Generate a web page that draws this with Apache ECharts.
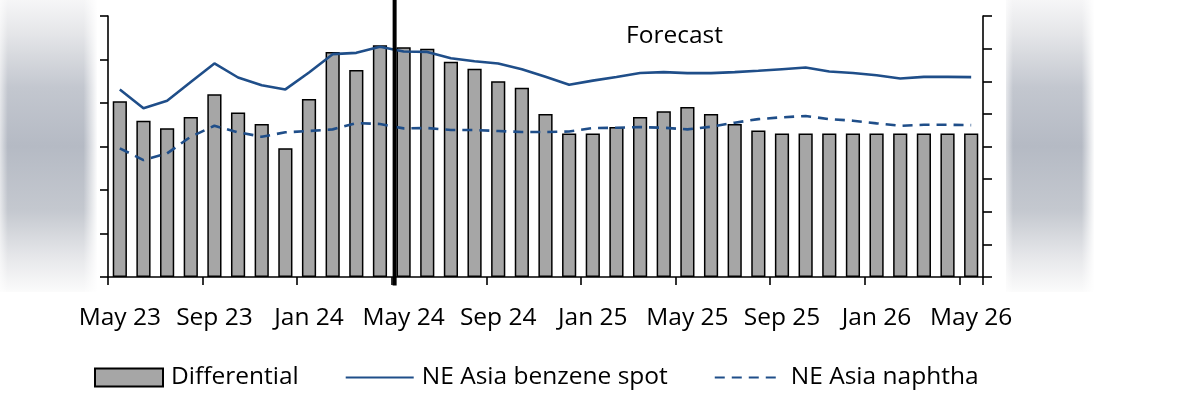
<!DOCTYPE html>
<html>
<head>
<meta charset="utf-8">
<script src="https://cdn.jsdelivr.net/npm/echarts@6/dist/echarts.min.js"></script>
<style>
  html, body { margin: 0; padding: 0; background: #ffffff; }
  #chart { width: 1178px; height: 404px; }
</style>
</head>
<body>
<div id="chart"></div>
<script>
// Monthly categories, May 2023 through May 2026
const categories = [
  'May 23','Jun 23','Jul 23','Aug 23','Sep 23','Oct 23','Nov 23','Dec 23',
  'Jan 24','Feb 24','Mar 24','Apr 24','May 24','Jun 24','Jul 24','Aug 24',
  'Sep 24','Oct 24','Nov 24','Dec 24','Jan 25','Feb 25','Mar 25','Apr 25',
  'May 25','Jun 25','Jul 25','Aug 25','Sep 25','Oct 25','Nov 25','Dec 25',
  'Jan 26','Feb 26','Mar 26','Apr 26','May 26'
];

// Benzene minus naphtha differential (left axis)
const differential = [
  404, 359, 342, 368, 420, 378, 352, 296,
  409, 517, 476, 533, 528, 525, 495, 479,
  450, 435, 375, 330, 330, 345, 368, 381,
  391, 375, 352, 337, 330, 330, 330, 330,
  330, 330, 330, 330, 330
];

// NE Asia benzene spot (right axis)
const benzeneSpot = [
  1150, 1035, 1080, 1196, 1309, 1223, 1176, 1150,
  1254, 1366, 1374, 1412, 1382, 1380, 1341, 1323,
  1309, 1274, 1227, 1178, 1204, 1226, 1251, 1256,
  1250, 1250, 1256, 1264, 1274, 1284, 1260, 1251,
  1237, 1217, 1227, 1227, 1225
];

// NE Asia naphtha (right axis)
const naphtha = [
  789, 717, 758, 860, 927, 887, 860, 887,
  895, 905, 944, 938, 911, 913, 901, 901,
  895, 889, 889, 892, 913, 915, 919, 915,
  905, 921, 946, 968, 979, 987, 968, 958,
  942, 927, 933, 933, 931
];

const forecastStart = 'May 24';
const forecastLabel = 'Forecast';

const FONT = '"Open Sans", "Noto Sans", sans-serif';
const FS = 24.5;
const BLUE = '#1f4e89';
const AXIS = { lineStyle: { color: '#000', width: 1.6 } };
// line-only legend key: hide the marker that sits on the key line
const HIDDEN_MARKER = { color: 'rgba(0,0,0,0)', borderColor: 'rgba(0,0,0,0)', borderWidth: 0, opacity: 0 };

const chart = echarts.init(document.getElementById('chart'), null, { renderer: 'canvas' });

// Soft grey panels beside the two value axes
function hazePanel(x, w) {
  return [
    {
      type: 'rect', z: 0, silent: true,
      shape: { x: x, y: 0, width: w, height: 292 },
      style: {
        fill: new echarts.graphic.LinearGradient(0, 0, 0, 1, [
          { offset: 0.0, color: '#f6f6f7' },
          { offset: 0.12, color: '#e4e5e8' },
          { offset: 0.3, color: '#c3c7cf' },
          { offset: 0.5, color: '#b5bac4' },
          { offset: 0.72, color: '#c4c8cf' },
          { offset: 0.88, color: '#e6e7ea' },
          { offset: 1.0, color: '#fbfbfb' }
        ])
      }
    },
    {
      type: 'rect', z: 1, silent: true,
      shape: { x: x, y: 0, width: w, height: 292 },
      style: {
        fill: new echarts.graphic.LinearGradient(0, 0, 1, 0, [
          { offset: 0.0, color: 'rgba(255,255,255,0.6)' },
          { offset: 0.08, color: 'rgba(255,255,255,0)' },
          { offset: 0.86, color: 'rgba(255,255,255,0)' },
          { offset: 1.0, color: 'rgba(255,255,255,0.95)' }
        ])
      }
    }
  ];
}

const option = {
  animation: false,
  backgroundColor: '#ffffff',
  textStyle: { fontFamily: FONT },
  grid: { left: 108, right: 195, top: 16, bottom: 127, containLabel: false },
  legend: {
    left: 89, top: 360,
    itemWidth: 68, itemHeight: 18, itemGap: 46,
    textStyle: { fontFamily: FONT, fontSize: FS, color: '#000', padding: [0, 0, 0, 3] },
    data: [
      { name: 'Differential', icon: 'rect' },
      { name: 'NE Asia benzene spot', itemStyle: HIDDEN_MARKER },
      { name: 'NE Asia naphtha', itemStyle: HIDDEN_MARKER }
    ]
  },
  xAxis: {
    type: 'category',
    data: categories,
    boundaryGap: true,
    axisLine: AXIS,
    axisTick: { show: true, interval: 3, length: 8, lineStyle: { color: '#000', width: 1.6 } },
    axisLabel: { interval: 3, margin: 29, fontFamily: FONT, fontSize: FS, color: '#000' },
    splitLine: { show: false }
  },
  yAxis: [
    {
      type: 'value', min: 0, max: 600, interval: 100,
      axisLine: { show: true, lineStyle: { color: '#000', width: 1.6 } },
      axisTick: { show: true, length: 8, lineStyle: { color: '#000', width: 1.6 } },
      axisLabel: { show: false },
      splitLine: { show: false }
    },
    {
      type: 'value', min: 0, max: 1600, interval: 200, position: 'right',
      axisLine: { show: true, lineStyle: { color: '#000', width: 1.6 } },
      axisTick: { show: true, length: 9, lineStyle: { color: '#000', width: 1.6 } },
      axisLabel: { show: false },
      splitLine: { show: false }
    }
  ],
  series: [
    {
      name: 'Differential',
      type: 'bar',
      yAxisIndex: 0,
      data: differential,
      barCategoryGap: '40%',
      itemStyle: { color: '#a6a6a6', borderColor: '#000', borderWidth: 1.5 },
      z: 2
    },
    {
      name: 'NE Asia benzene spot',
      type: 'line',
      yAxisIndex: 1,
      data: benzeneSpot,
      symbol: 'none',
      lineStyle: { color: BLUE, width: 2.6 },
      itemStyle: { color: BLUE },
      z: 3
    },
    {
      name: 'NE Asia naphtha',
      type: 'line',
      yAxisIndex: 1,
      data: naphtha,
      symbol: 'none',
      lineStyle: { color: BLUE, width: 2.6, type: [10, 7] },
      itemStyle: { color: BLUE },
      z: 3
    }
  ],
  graphic: [].concat(hazePanel(0, 97), hazePanel(1006, 88))
};

chart.setOption(option);

// Forecast divider: placed just after the boundary that opens the forecast month
const centre = chart.convertToPixel({ xAxisIndex: 0 }, forecastStart);
const prev = chart.convertToPixel({ xAxisIndex: 0 }, categories[categories.indexOf(forecastStart) - 1]);
const band = centre - prev;
const divX = centre - band * 0.38;
const baseY = chart.convertToPixel({ yAxisIndex: 0 }, 0);

chart.setOption({
  graphic: [].concat(hazePanel(0, 97), hazePanel(1006, 88), [
    {
      type: 'line', z: 10, silent: true,
      shape: { x1: divX, y1: 0, x2: divX, y2: baseY + 8.5 },
      style: { stroke: '#000', lineWidth: 4 }
    },
    {
      type: 'text', z: 10, silent: true,
      x: 626, y: 24,
      style: { text: forecastLabel, fontFamily: FONT, fontSize: FS, fill: '#000' }
    }
  ])
});
</script>
</body>
</html>
